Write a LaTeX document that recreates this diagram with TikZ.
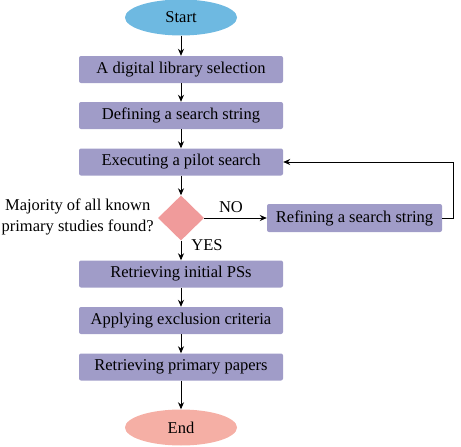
\documentclass[tikz,border=0pt]{standalone}
\usepackage{fontspec}
\setmainfont{Liberation Serif}
\usetikzlibrary{shapes.geometric,arrows.meta}
\definecolor{startc}{RGB}{110,185,225}
\definecolor{boxc}{RGB}{160,156,200}
\definecolor{diac}{RGB}{240,155,155}
\definecolor{endc}{RGB}{245,175,165}
\tikzset{
  stepbox/.style={rectangle, rounded corners=2pt, fill=boxc, minimum width=204pt, minimum height=27pt, inner sep=0pt, font=\fontsize{16.5}{20}\selectfont},
  term/.style={ellipse, minimum width=112pt, minimum height=36pt, inner sep=0pt, font=\fontsize{16.5}{20}\selectfont},
  arr/.style={draw=black, line width=0.9pt, -{Stealth[length=7pt,width=6pt]}},
  lbl/.style={font=\fontsize{16.5}{20}\selectfont, inner sep=0pt}
}
\begin{document}
\begin{tikzpicture}[x=1pt,y=-1pt]
\useasboundingbox (0,0) rectangle (461,447);
\node[term, fill=startc] (start) at (181,17.5) {Start};
\node[stepbox] (b1) at (181,69.5) {A digital library selection};
\node[stepbox] (b2) at (181,115.5) {Defining a search string};
\node[stepbox] (b3) at (181,162) {Executing a pilot search};
\node[diamond, fill=diac, minimum width=46pt, minimum height=45pt, inner sep=0pt, aspect=1] (d) at (181,218) {};
\node[rectangle, rounded corners=2pt, fill=boxc, minimum width=175pt, minimum height=28pt, inner sep=0pt, font=\fontsize{16.5}{20}\selectfont] (r) at (354.5,218) {Refining a search string};
\node[stepbox] (b4) at (181,274) {Retrieving initial PSs};
\node[stepbox] (b5) at (181,320.5) {Applying exclusion criteria};
\node[stepbox] (b6) at (181,367) {Retrieving primary papers};
\node[term, fill=endc] (end) at (181,427.5) {End};
\node[lbl, align=center, anchor=east, font=\fontsize{16.5}{21}\selectfont] (q) at (154,217) {Majority of all known\\primary studies found?};
\node[lbl] (no) at (231,207) {NO};
\node[lbl] (yes) at (207,245) {YES};
\coordinate (c1) at (453,218);
\coordinate (c2) at (453,162);
\draw[arr] (start) -- (b1);
\draw[arr] (b1) -- (b2);
\draw[arr] (b2) -- (b3);
\draw[arr] (b3) -- (d);
\draw[arr] (d) -- (r);
\draw[arr] (d) -- (b4);
\draw[arr] (b4) -- (b5);
\draw[arr] (b5) -- (b6);
\draw[arr] (b6) -- (end);
\draw[arr] (r.east) -- (c1) -- (c2) -- (b3.east);
\end{tikzpicture}
\end{document}
